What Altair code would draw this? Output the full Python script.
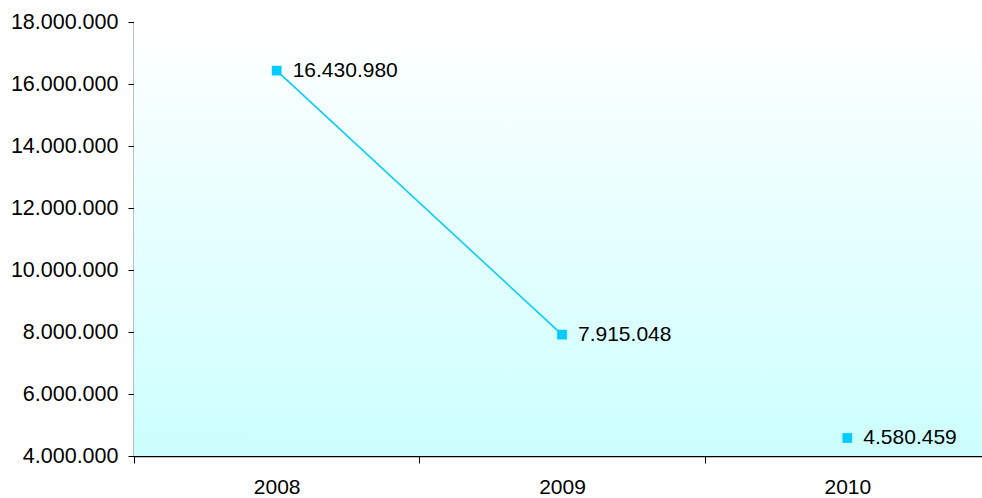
import altair as alt
import pandas as pd

years = ["2008", "2009", "2010"]
values = [16430980, 7915048, 4580459]
labels = ["16.430.980", "7.915.048", "4.580.459"]
connected = [True, True, False]

df = pd.DataFrame({"year": years, "value": values, "label": labels, "conn": connected})

W, H = 848, 434
XR = 856
CYAN = "#00CCFF"
FONT = "Liberation Sans"

xscale = alt.Scale(domain=years, range=[0, XR], paddingInner=0, paddingOuter=0)
xenc = alt.X("year:N", sort=years, scale=xscale,
             axis=alt.Axis(title=None, labelAngle=0, tickBand="extent", labelFontSize=21,
                           labelFont=FONT, labelColor="#000000", labelPadding=13,
                           tickColor="#000000", tickSize=7, domainColor="#000000", domainWidth=1.5,
                           grid=False))
yscale = alt.Scale(domain=[4000000, 18000000], nice=False, zero=False)
yenc = alt.Y("value:Q", scale=yscale,
             axis=alt.Axis(title=None, values=list(range(4000000, 18000001, 2000000)),
                           labelExpr="replace(format(datum.value, ','), /,/g, '.')",
                           labelFontSize=21.5, labelFont=FONT, labelColor="#000000",
                           labelPadding=10, tickColor="#000000", tickSize=6,
                           domainColor="#000000", domainWidth=1.5,
                           grid=True, gridColor="#A0A0A0", gridWidth=1))

bg = alt.Chart(pd.DataFrame({"a": [0]})).mark_rect(
    color=alt.Gradient(gradient="linear", x1=0, y1=0, x2=0, y2=1,
                       stops=[alt.GradientStop(color="#FFFFFF", offset=0),
                              alt.GradientStop(color="#CCFFFF", offset=1)])
).encode(x=alt.value(0), x2=alt.value(W), y=alt.value(0), y2=alt.value(H))

base = alt.Chart(df)
axes = base.mark_point(opacity=0).encode(x=xenc, y=yenc)
line = base.transform_filter("datum.conn").mark_line(color=CYAN, strokeWidth=1.5).encode(
    x=alt.X("year:N", sort=years), y="value:Q")
pts = base.mark_square(color=CYAN, size=95, opacity=1).encode(x=alt.X("year:N", sort=years), y="value:Q")
txt = base.mark_text(align="left", baseline="middle", dx=16, dy=0, fontSize=21,
                     font=FONT, color="#000000").encode(
    x=alt.X("year:N", sort=years), y="value:Q", text="label:N")

chart = alt.layer(bg, axes, line, pts, txt).properties(
    width=W, height=H, autosize="none",
    padding={"left": 134, "top": 22, "right": 0, "bottom": 42}
).configure_view(stroke=None).configure(background="#FFFFFF")

chart.save("out.html", embed_options={"renderer": "svg", "actions": False})
